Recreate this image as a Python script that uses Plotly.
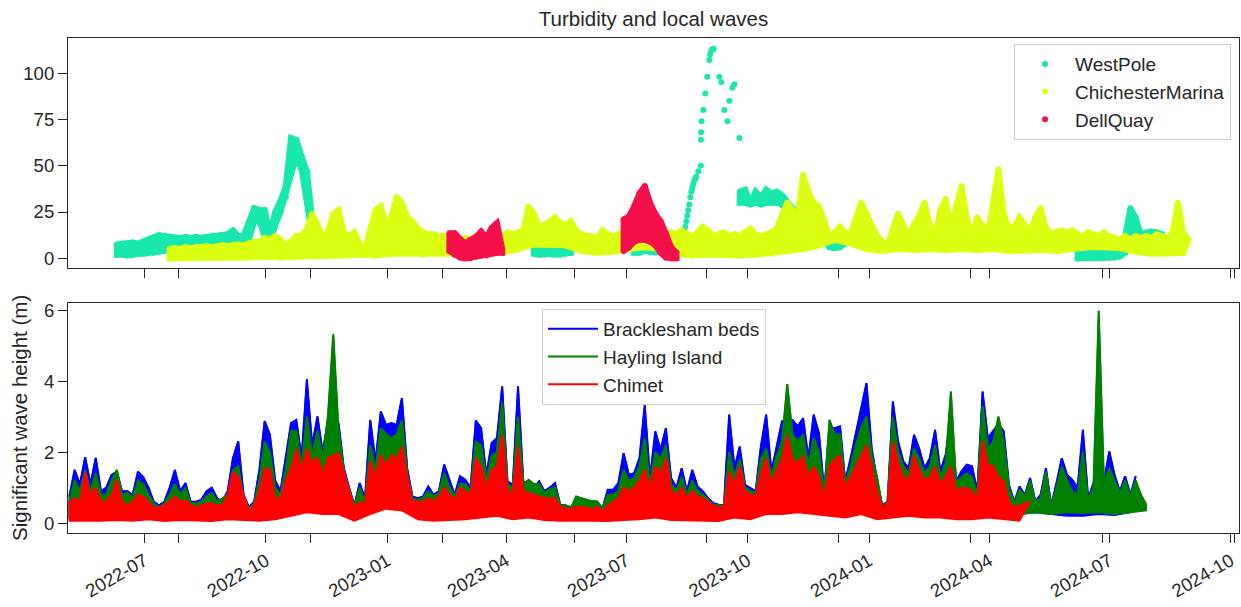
import pandas as pd
import plotly.graph_objects as go

# ---------------------------------------------------------------------------
# Sampling grids
# ---------------------------------------------------------------------------
GRID_START = "2022-05-05"   # first sample of the 4-day peak/trough grid
PEAK_STEP = 4               # days between peak samples
TROUGH_STEP = 12            # days between trough samples

X_RANGE = ["2022-05-04", "2024-10-07 07:00"]
MAJOR_TICKS = ["2022-07-01", "2022-10-01", "2023-01-01", "2023-04-01", "2023-07-01",
               "2023-10-01", "2024-01-01", "2024-04-01", "2024-07-01", "2024-10-01"]
EXTRA_TICKS = ["2022-07-27", "2022-11-04", "2023-02-12", "2023-05-23", "2023-08-31",
               "2023-12-09", "2024-03-18", "2024-06-26", "2024-10-04"]

# ---------------------------------------------------------------------------
# Significant wave height (m): 4-day peaks and 12-day troughs
# ---------------------------------------------------------------------------
brack_hi = [
    0.75, 1.5, 1.1, 1.86, 1.1, 1.84, 0.9, 1.0, 1.36, 1.45,
    0.9, 0.9, 0.8, 1.45, 1.3, 1.0, 0.6, 0.5, 0.6, 1.0,
    1.5, 0.9, 1.13, 0.6, 0.6, 0.66, 0.9, 1.0, 0.7, 0.6,
    0.9, 1.84, 2.31, 0.8, 0.45, 0.6, 1.5, 2.88, 2.49, 1.2,
    0.9, 1.88, 2.82, 2.91, 1.84, 4.06, 2.2, 3.01, 2.0, 2.9,
    2.6, 2.82, 1.55, 1.0, 0.5, 1.13, 0.7, 2.91, 1.74, 3.15,
    2.77, 2.82, 2.77, 3.53, 1.55, 0.75, 0.7, 0.75, 1.03, 0.8,
    0.9, 1.65, 1.2, 0.8, 1.32, 1.22, 1.0, 2.89, 2.68, 1.36,
    2.26, 2.4, 3.86, 1.18, 1.08, 3.86, 1.18, 1.1, 1.0, 1.18,
    0.9, 1.0, 1.13, 0.52, 0.5, 0.45, 0.65, 0.6, 0.6, 0.55,
    0.5, 0.42, 0.94, 0.94, 1.13, 1.97, 1.36, 1.41, 1.83, 3.34,
    1.27, 2.59, 2.07, 2.68, 1.27, 1.0, 1.55, 0.9, 1.5, 1.03,
    0.9, 0.7, 0.56, 0.52, 0.5, 3.06, 1.55, 2.16, 1.08, 0.99,
    0.9, 2.16, 3.06, 1.46, 2.2, 2.87, 2.9, 2.91, 2.73, 2.96,
    1.83, 3.06, 2.54, 0.9, 2.7, 2.68, 2.73, 1.18, 1.83, 2.54,
    3.2, 3.95, 2.1, 1.22, 0.5, 0.61, 3.43, 2.3, 1.74, 1.55,
    2.49, 2.1, 1.55, 1.83, 2.63, 1.46, 1.93, 3.0, 1.18, 1.46,
    1.65, 1.6, 0.9, 3.71, 2.4, 2.59, 2.8, 2.59, 1.08, 0.6,
    1.03, 0.8, 1.27, 0.61, 0.8, 1.55, 0.5, 1.13, 1.83, 1.36,
    1.22, 1.0, 2.63, 0.7, 1.13, 1.18, 1.18, 2.02, 1.36, 0.9,
    1.32, 0.8, 1.32,
]
hayling_hi = [
    0.6, 1.2, 0.9, 1.5, 0.9, 1.4, 0.8, 0.8, 1.2, 1.5,
    0.8, 0.85, 0.7, 1.2, 1.1, 0.8, 0.55, 0.45, 0.55, 0.8,
    1.1, 0.8, 1.0, 0.55, 0.55, 0.6, 0.75, 0.85, 0.6, 0.7,
    0.8, 1.5, 1.6, 0.7, 0.42, 0.55, 1.2, 2.3, 2.0, 1.0,
    0.8, 1.5, 2.6, 2.6, 1.6, 3.0, 1.9, 2.6, 1.8, 3.04,
    5.33, 2.6, 1.5, 0.95, 0.47, 1.0, 0.6, 2.2, 1.5, 2.68,
    2.5, 2.4, 2.5, 2.9, 1.4, 0.7, 0.65, 0.7, 0.9, 0.75,
    0.85, 1.4, 1.0, 0.75, 1.1, 1.1, 0.9, 2.3, 2.2, 1.2,
    1.9, 2.0, 3.4, 1.1, 1.0, 3.0, 1.1, 1.22, 1.1, 1.1,
    0.85, 0.95, 1.0, 0.5, 0.5, 0.42, 0.75, 0.7, 0.66, 0.62,
    0.61, 0.42, 0.8, 0.8, 0.9, 1.5, 1.2, 1.25, 1.6, 2.4,
    1.1, 2.0, 1.8, 2.2, 1.1, 0.9, 1.3, 0.8, 1.2, 0.9,
    0.8, 0.65, 0.52, 0.5, 0.48, 2.0, 1.3, 1.8, 1.0, 0.9,
    0.85, 1.8, 2.1, 1.3, 1.9, 2.3, 3.92, 2.5, 2.3, 2.5,
    1.6, 2.4, 2.0, 0.8, 2.91, 2.5, 2.5, 1.1, 1.6, 2.2,
    2.7, 3.0, 1.9, 1.3, 0.45, 0.6, 3.0, 2.0, 1.6, 1.4,
    2.1, 1.8, 1.4, 1.6, 2.2, 1.3, 1.7, 3.71, 1.1, 1.3,
    1.4, 1.3, 0.8, 3.3, 2.1, 2.3, 3.0, 2.3, 1.0, 0.55,
    0.95, 0.75, 1.2, 0.6, 0.7, 1.45, 0.45, 1.0, 1.6, 1.2,
    0.9, 0.8, 2.02, 0.65, 1.0, 5.99, 1.1, 1.55, 1.2, 0.85,
    1.2, 0.75, 1.2, 0.8, 0.52,
]
chimet_hi = [
    0.6, 0.7, 0.6, 1.44, 0.8, 1.0, 0.6, 0.6, 0.8, 1.22,
    0.6, 0.5, 0.6, 0.8, 0.75, 0.6, 0.45, 0.42, 0.5, 0.6,
    0.75, 0.6, 0.65, 0.5, 0.45, 0.5, 0.55, 0.55, 0.5, 0.5,
    0.8, 1.44, 1.3, 0.8, 0.35, 0.5, 0.9, 1.55, 1.5, 0.7,
    0.7, 1.2, 1.55, 2.1, 1.5, 2.1, 1.7, 1.84, 1.4, 1.84,
    1.9, 1.97, 1.44, 0.9, 0.42, 0.6, 0.5, 1.74, 1.3, 1.93,
    1.6, 1.93, 1.8, 2.16, 1.3, 0.6, 0.6, 0.6, 0.7, 0.6,
    0.75, 1.0, 0.8, 0.65, 1.0, 0.9, 0.8, 1.83, 1.6, 1.0,
    1.5, 1.6, 2.49, 0.9, 0.85, 2.16, 0.9, 0.85, 0.8, 0.75,
    0.7, 0.7, 0.7, 0.45, 0.42, 0.4, 0.45, 0.45, 0.45, 0.4,
    0.45, 0.35, 0.5, 0.6, 0.7, 1.0, 0.9, 1.0, 1.2, 1.5,
    1.0, 1.6, 1.4, 1.83, 0.9, 0.8, 1.0, 0.7, 0.9, 0.75,
    0.7, 0.6, 0.5, 0.45, 0.42, 1.46, 1.1, 1.6, 0.9, 0.8,
    0.75, 1.4, 1.83, 1.1, 1.5, 1.8, 2.49, 1.8, 1.7, 1.9,
    1.3, 1.6, 1.3, 0.7, 1.6, 1.8, 1.9, 1.0, 1.3, 1.6,
    1.9, 2.2, 1.6, 0.9, 0.42, 0.55, 2.3, 1.7, 1.3, 1.2,
    1.9, 1.5, 1.2, 1.3, 1.6, 1.1, 1.3, 1.6, 0.9, 0.99,
    1.0, 0.9, 0.7, 2.3, 1.65, 1.6, 1.3, 1.18, 0.6, 0.45,
    0.5, 0.55, 0.6,
]
brack_lo = [
    0.15, 0.13, 0.15, 0.17, 0.15, 0.2, 0.13, 0.17, 0.15, 0.13,
    0.2, 0.17, 0.15, 0.2, 0.3, 0.4, 0.35, 0.35, 0.15, 0.35,
    0.5, 0.45, 0.2, 0.15, 0.17, 0.2, 0.25, 0.3, 0.2, 0.25,
    0.17, 0.15, 0.13, 0.15, 0.13, 0.17, 0.2, 0.25, 0.17, 0.15,
    0.15, 0.13, 0.25, 0.2, 0.35, 0.35, 0.4, 0.35, 0.3, 0.25,
    0.35, 0.2, 0.25, 0.3, 0.25, 0.25, 0.2, 0.2, 0.25, 0.2,
    0.25, 0.3, 0.25, 0.2, 0.2, 0.25, 0.22, 0.3,
]
hayling_lo = [
    0.15, 0.13, 0.15, 0.17, 0.15, 0.2, 0.13, 0.17, 0.15, 0.13,
    0.2, 0.17, 0.15, 0.2, 0.3, 0.4, 0.35, 0.35, 0.15, 0.35,
    0.5, 0.45, 0.2, 0.15, 0.17, 0.2, 0.25, 0.3, 0.2, 0.25,
    0.17, 0.15, 0.13, 0.15, 0.13, 0.17, 0.2, 0.25, 0.17, 0.15,
    0.15, 0.13, 0.25, 0.2, 0.35, 0.35, 0.4, 0.35, 0.3, 0.25,
    0.35, 0.2, 0.25, 0.3, 0.25, 0.25, 0.2, 0.2, 0.25, 0.2,
    0.25, 0.3, 0.25, 0.3, 0.28, 0.3, 0.25, 0.3, 0.35,
]
chimet_lo = [
    0.06, 0.05, 0.06, 0.08, 0.06, 0.1, 0.05, 0.08, 0.06, 0.05,
    0.1, 0.08, 0.06, 0.1, 0.2, 0.3, 0.25, 0.25, 0.06, 0.25,
    0.4, 0.35, 0.1, 0.06, 0.08, 0.1, 0.15, 0.2, 0.1, 0.15,
    0.08, 0.06, 0.05, 0.06, 0.05, 0.08, 0.1, 0.15, 0.08, 0.06,
    0.06, 0.05, 0.15, 0.1, 0.25, 0.25, 0.3, 0.25, 0.2, 0.15,
    0.25, 0.1, 0.15, 0.2, 0.15, 0.15, 0.1, 0.1, 0.15, 0.1,
    0.06,
]

# ---------------------------------------------------------------------------
# Turbidity: 4-day peaks / troughs on the shared grid (None = no sonde)
# ---------------------------------------------------------------------------
westpole_hi = (
    [None] * 9
    + [7.5, 8, 8, 8.5, 8, 9, 10, 11, 12.5, 12,
       11.5, 11, 11, 11.5, 11, 11.5, 11, 11.5, 12, 12, 12.5, 13,
       15, 12, 12, 19, 27, 26, 26, 13, 25, 31, 39, 65, 64, 55, 47, 21, 17]
    + [None] * 40
    + [5, 5.5, 5, 4.5, 5, 4, 5, 4]
    + [None] * 11
    + [9, 9, 8, 9, 8, 9, 8, 7]
    + [None] * 12
    + [36, 37, 30, 36, 33, 37, 35, 36, 34, 30, 27, 24, 22, 23, 21, 21, 19,
       8.5, 8, 9, 13, 13, 11]
    + [None] * 41
    + [3, 3, 2.5, 3, 2.5, 3, 3, 3.5, 4, 12, 27, 22, 12, 14, 14.5, 14, 13, 9, 7, 7]
)
westpole_lo = (
    [None] * 9
    + [2, 2, 1.5, 2, 2.5, 2.5, 3, 3, 3.5, 4,
       7, 7, 7, 7, 7, 7, 7, 7, 7, 7, 7, 7,
       7, 6, 6, 10, 20, 20, 12, 8, 18, 25, 33, 45, 55, 48, 30, 12, 8]
    + [None] * 40
    + [2.5, 2, 2, 2.5, 2, 2, 2.5, 3]
    + [None] * 11
    + [3, 3, 4, 3.5, 3, 3.5, 3, 3]
    + [None] * 12
    + [30, 30, 29, 30, 29, 30, 30, 30, 29, 24, 20, 16, 14, 15, 14, 16, 10,
       6, 5.5, 6, 8, 9, 7]
    + [None] * 41
    + [0, 0, 0, 0.5, 0, 0, 0.5, 0.5, 1, 3, 10, 9, 5, 9, 10, 9, 8, 4, 3, 3]
)
# WestPole spike in late summer 2023 (individual readings)
westpole_spike_time = [
    "2023-08-13 23:00", "2023-08-14 17:00", "2023-08-15 12:00", "2023-08-16 05:00",
    "2023-08-17 00:00", "2023-08-17 19:00", "2023-08-18 12:00", "2023-08-19 07:00",
    "2023-08-20 01:00", "2023-08-20 19:00", "2023-08-21 12:00", "2023-08-22 07:00",
    "2023-08-23 02:00", "2023-08-24 14:00", "2023-08-26 12:00", "2023-08-26 15:00",
    "2023-08-26 18:00", "2023-08-27 00:00", "2023-08-28 09:00", "2023-08-29 21:00",
    "2023-08-31 09:00", "2023-09-01 22:00", "2023-09-02 12:00", "2023-09-03 10:00",
    "2023-09-04 08:00", "2023-09-05 07:00", "2023-09-09 12:00", "2023-09-11 00:00",
    "2023-09-13 07:00", "2023-09-15 14:00", "2023-09-17 02:00", "2023-09-19 09:00",
    "2023-09-20 21:00", "2023-09-24 17:00",
]
westpole_spike_ntu = [
    15, 17, 20, 23, 26, 29, 33, 36, 38, 40, 42, 43, 44, 47, 50, 64,
    68, 74, 80, 89, 98, 107, 110, 112, 113, 113, 98, 95, 80, 74, 85, 92,
    94, 65,
]

CHICH_FIRST = 19   # grid index of the first ChichesterMarina sample
chich_hi = [
    5, 5.5, 5, 6, 5.5, 6, 6, 6.5, 6, 6.5,
    7, 6.5, 7, 7.5, 7, 8, 9, 9, 11, 10,
    12, 10, 7, 9, 12, 12, 16, 24, 18, 12,
    14, 24, 26, 14, 12, 14, 8, 4, 16, 26,
    28, 18, 22, 33, 30, 22, 20, 16, 14, 13,
    13, 12, 12, 10, 12, 10, 11, 10, 12, 10,
    11, 12, 10, 11, 14, 13, 14, 15, 28, 24,
    17, 18, 20, 22, 19, 18, 20, 15, 13, 12,
    12, 11, 15, 13, 12, 13, 14, 12, 13, 14,
    12, 13, 14, 12, 13, 14, 13, 15, 13, 12,
    14, 17, 15, 12, 13, 14, 12, 13, 12, 14,
    16, 13, 12, 13, 14, 16, 24, 30, 26, 22,
    45, 36, 30, 28, 20, 12, 14, 17, 14, 13,
    22, 30, 24, 18, 12, 9, 7, 16, 24, 18,
    12, 18, 23, 30, 18, 12, 26, 32, 16, 28,
    39, 22, 12, 22, 18, 13, 30, 48, 24, 16,
    17, 22, 18, 14, 22, 27, 16, 14, 14, 15,
    14, 15, 13, 12, 14, 13, 12, 14, 12, 11,
    10, 12, 10, 12, 11, 12, 11, 13, 12, 11,
    14, 30, 14, 10,
]
chich_lo = [
    0, 0, 0.5, 0, 0.5, 0.5, 1, 0.5, 1, 1.5,
    1.5, 1.5, 2, 1.5, 2.5, 2.5, 2, 2.5, 2, 2.5,
    2.5, 3, 5, 7.5, 7.5, 7, 4, 3, 3.5, 5,
    6, 5, 2.5, 1.5, 2, 2, 1.5, 2, 2.5, 4,
    5, 7, 10, 8, 5, 4, 5, 4.5, 5, 4.5,
    5, 4.5, 5, 4, 4, 4.5, 4, 5, 6, 6,
    5.5, 3.5, 2.5, 2.5, 3,
]

dell_hi = (
    [None] * 72
    + [13.5, 13.5, 10.5, 8, 10, 11.5, 14.5, 11, 16.5, 19, 5]
    + [None] * 22
    + [21, 22.5, 28, 35, 39, 30, 24, 20, 13.5, 6, 3]
)
dell_lo = (
    [None] * 72
    + [4, 2, 0.5, 0, 0, 1, 1.5, 1.5, 2.5, 3, 3]
    + [None] * 22
    + [4, 6, 9, 10, 10, 9, 7, 3, 0.5, 0, 0]
)

# ---------------------------------------------------------------------------
# Styling
# ---------------------------------------------------------------------------
FONT = "Liberation Sans"
INK = "#262626"
C_WEST, C_CHICH, C_DELL = "#19E8AE", "#DCFF12", "#F5104C"
C_BRACK, C_HAYL, C_CHIM = "#0000FF", "#008000", "#FF0000"


def dates(start, n, step, offset=0):
    first = pd.Timestamp(start) + pd.Timedelta(days=offset * PEAK_STEP)
    return list(pd.date_range(first, periods=n, freq=f"{step}D"))


def closed_band(x_hi, y_hi, x_lo, y_lo):
    xs = list(x_hi) + list(reversed(x_lo)) + [x_hi[0]]
    ys = list(y_hi) + list(reversed(y_lo)) + [y_hi[0]]
    return xs, ys


def gridded_bands(x, hi, lo):
    """Closed outlines for every run of samples, separated by gaps."""
    xs, ys, run = [], [], []
    for xi, h, l in list(zip(x, hi, lo)) + [(None, None, None)]:
        if h is None:
            if run:
                rx = [r[0] for r in run]
                bx, by = closed_band(rx, [r[1] for r in run], rx, [r[2] for r in run])
                xs += bx + [None]
                ys += by + [None]
                run = []
        else:
            run.append((xi, h, l))
    return xs, ys


fig = go.Figure()


def add_band(xs, ys, color, width, xa, ya):
    fig.add_trace(go.Scatter(
        x=xs, y=ys, mode="lines", fill="toself", fillcolor=color,
        line=dict(color=color, width=width), showlegend=False,
        hoverinfo="skip", xaxis=xa, yaxis=ya))


# ---- turbidity panel ------------------------------------------------------
grid_x = dates(GRID_START, len(westpole_hi), PEAK_STEP)
wx, wy = gridded_bands(grid_x, westpole_hi, westpole_lo)
add_band(wx, wy, C_WEST, 6, "x", "y")
w_pts = [(x, v) for x, h, l in zip(grid_x, westpole_hi, westpole_lo) if h is not None for v in (h, l)]
fig.add_trace(go.Scatter(
    x=[p[0] for p in w_pts] + list(pd.to_datetime(westpole_spike_time)),
    y=[p[1] for p in w_pts] + westpole_spike_ntu,
    mode="markers", marker=dict(color=C_WEST, size=6), name="WestPole",
    xaxis="x", yaxis="y", legend="legend"))

ch_hx = dates(GRID_START, len(chich_hi), PEAK_STEP, CHICH_FIRST)
ch_lx = dates(GRID_START, len(chich_lo), TROUGH_STEP, CHICH_FIRST)
cx, cy = closed_band(ch_hx, chich_hi, ch_lx, chich_lo)
add_band(cx, cy, C_CHICH, 6, "x", "y")
fig.add_trace(go.Scatter(
    x=ch_hx + ch_lx, y=chich_hi + chich_lo, mode="markers",
    marker=dict(color=C_CHICH, size=6), name="ChichesterMarina",
    xaxis="x", yaxis="y", legend="legend"))

dell_x = dates(GRID_START, len(dell_hi), PEAK_STEP)
dx, dy = gridded_bands(dell_x, dell_hi, dell_lo)
add_band(dx, dy, C_DELL, 6, "x", "y")
d_pts = [(x, v) for x, h, l in zip(dell_x, dell_hi, dell_lo) if h is not None for v in (h, l)]
fig.add_trace(go.Scatter(
    x=[p[0] for p in d_pts], y=[p[1] for p in d_pts], mode="markers",
    marker=dict(color=C_DELL, size=6), name="DellQuay",
    xaxis="x", yaxis="y", legend="legend"))

# ---- wave panel -----------------------------------------------------------
for name, hi, lo, color in [("Bracklesham beds", brack_hi, brack_lo, C_BRACK),
                            ("Hayling Island", hayling_hi, hayling_lo, C_HAYL),
                            ("Chimet", chimet_hi, chimet_lo, C_CHIM)]:
    hx = dates(GRID_START, len(hi), PEAK_STEP)
    lx = dates(GRID_START, len(lo), TROUGH_STEP)
    bx, by = closed_band(hx, hi, lx, lo)
    add_band(bx, by, color, 1.5, "x2", "y2")
    fig.add_trace(go.Scatter(
        x=hx, y=hi, mode="lines", line=dict(color=color, width=2),
        name=name, xaxis="x2", yaxis="y2", legend="legend2"))

# ---- layout ---------------------------------------------------------------
axis_common = dict(
    showline=True, linecolor=INK, linewidth=1.2, mirror=True,
    ticks="outside", ticklen=9, tickwidth=1.2, tickcolor=INK,
    showgrid=False, zeroline=False,
    tickfont=dict(family=FONT, size=18.5, color=INK),
)
x_common = dict(
    axis_common, type="date", range=X_RANGE,
    tickmode="array", tickvals=MAJOR_TICKS, tickformat="%Y-%m",
    minor=dict(tickmode="array", tickvals=EXTRA_TICKS, ticks="outside",
               ticklen=9, tickwidth=1.2, tickcolor=INK, showgrid=False),
)
legend_common = dict(
    bgcolor="rgba(255,255,255,0.8)", bordercolor="#cccccc", borderwidth=1,
    font=dict(family=FONT, size=19, color=INK), itemwidth=50,
)

fig.update_layout(
    width=1241, height=607,
    margin=dict(l=68, r=2, t=38, b=74),
    paper_bgcolor="white", plot_bgcolor="white",
    font=dict(family=FONT, color=INK),
    title=dict(text="Turbidity and local waves", x=0.5, xref="paper",
               y=1 - 19 / 607, yanchor="middle",
               font=dict(family=FONT, size=20.5, color=INK)),
    xaxis=dict(x_common, domain=[0, 1], anchor="y", showticklabels=False),
    xaxis2=dict(x_common, domain=[0, 1], anchor="y2", tickangle=-30),
    yaxis=dict(axis_common, domain=[0.5354, 1], anchor="x", range=[-5.2, 118.9],
               tickmode="array", tickvals=[0, 25, 50, 75, 100]),
    yaxis2=dict(axis_common, domain=[0, 0.4653], anchor="x2", range=[-0.28, 6.22],
                tickmode="array", tickvals=[0, 2, 4, 6],
                title=dict(text="Significant wave height (m)", standoff=10,
                           font=dict(family=FONT, size=20.5, color=INK))),
    legend=dict(legend_common, x=0.9932, y=0.9878, xanchor="right", yanchor="top"),
    legend2=dict(legend_common, x=0.5004, y=0.4525, xanchor="center", yanchor="top"),
    showlegend=True,
)

fig.write_html("out.html")
